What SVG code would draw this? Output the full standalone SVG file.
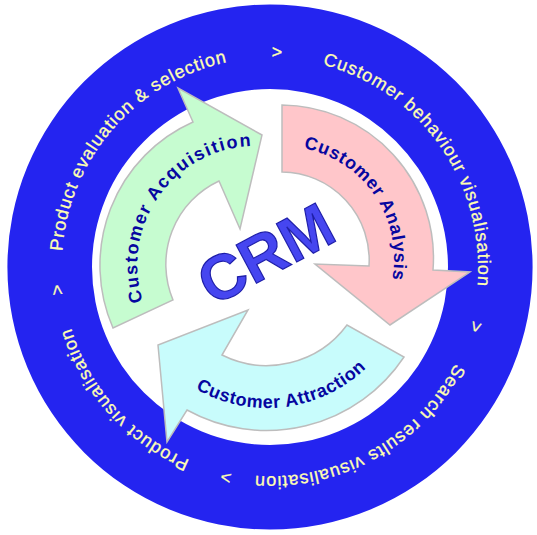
<svg xmlns="http://www.w3.org/2000/svg" xmlns:xlink="http://www.w3.org/1999/xlink" width="537" height="535" viewBox="0 0 537 535">
<style>
.ring{fill:#2424F0;fill-rule:evenodd}
.rt{font-family:"Liberation Sans",Arial,sans-serif;font-size:18px;fill:#FFFFB0;stroke:#FFFFB0;stroke-width:0.3px;letter-spacing:0.9px}
.arrow{stroke:#BDBDBD;stroke-width:1.5;stroke-linejoin:miter}
.at{font-family:"Liberation Sans",Arial,sans-serif;font-size:18px;font-weight:bold;fill:#0606A0}
.crm{font-family:"Liberation Sans",Arial,sans-serif;font-size:63px;font-weight:bold;fill:#4646F0;stroke:#1E1EA8;stroke-width:1.2}
</style>
<defs>
<path id="ringPath" d="M66.55,310.25 A208,208 0 1,1 473.45,223.75 A208,208 0 1,1 66.55,310.25"/>
<path id="gPath" d="M236.34,382.19 A119,119 0 1,1 277.66,147.81 A119,119 0 1,1 236.34,382.19"/>
<path id="pPath" d="M168,259 A113,113 0 1,1 394,259 A113,113 0 1,1 168,259"/>
<path id="cPath" d="M267,122 A143,143 0 1,0 267,408 A143,143 0 1,0 267,122"/>
</defs>
<rect width="537" height="535" fill="#FFFFFF"/>
<g id="ring">
<path class="ring" d="M270,4.5 A262.5,262.5 0 1,1 270,529.5 A262.5,262.5 0 1,1 270,4.5 Z M270,89 A178,178 0 1,0 270,445 A178,178 0 1,0 270,89 Z"/>
<text class="rt" text-anchor="middle"><textPath xlink:href="#ringPath" startOffset="21.8">&gt;</textPath></text>
<text class="rt" text-anchor="middle"><textPath xlink:href="#ringPath" startOffset="194.2">Product evaluation &amp; selection</textPath></text>
<text class="rt" text-anchor="middle"><textPath xlink:href="#ringPath" startOffset="379">&gt;</textPath></text>
<text class="rt" text-anchor="middle"><textPath xlink:href="#ringPath" startOffset="571.8">Customer behaviour visualisation</textPath></text>
<text class="rt" text-anchor="middle"><textPath xlink:href="#ringPath" startOffset="758.7">&gt;</textPath></text>
<text class="rt" text-anchor="middle"><textPath xlink:href="#ringPath" startOffset="921.2">Search results visualisation</textPath></text>
<text class="rt" text-anchor="middle"><textPath xlink:href="#ringPath" startOffset="1070.9">&gt;</textPath></text>
<text class="rt" text-anchor="middle"><textPath xlink:href="#ringPath" startOffset="1201.6">Product visualisation</textPath></text>
</g>
<g id="acquisition">
<path class="arrow" fill="#C6FCD0" d="M113,328 A157,157 0 0,1 193,122 L178,88 L262,135 L240,229 L219,181 A92,92 0 0,0 173,300 Z"/>
<text class="at" text-anchor="middle" style="letter-spacing:1.7px"><textPath xlink:href="#gPath" startOffset="239.9">Customer Acquisition</textPath></text>
</g>
<g id="analysis">
<path class="arrow" fill="#FFC6CA" d="M282,105 A153,153 0 0,1 433,270 L470,272 L390,325 L315,264 L369,266 A88,88 0 0,0 282,172 Z"/>
<text class="at" text-anchor="middle" style="letter-spacing:0.8px"><textPath xlink:href="#pPath" startOffset="287.9">Customer Analysis</textPath></text>
</g>
<g id="attraction">
<path class="arrow" fill="#C8FCFC" d="M404,357 A165,165 0 0,1 187,410 L167,442 L158,345 L248,310 L222,355 A100,100 0 0,0 347,325 Z"/>
<text class="at" text-anchor="middle" style="letter-spacing:0.6px"><textPath xlink:href="#cPath" startOffset="466.7">Customer Attraction</textPath></text>
</g>
<g id="crm">
<text class="crm" x="276" y="273" text-anchor="middle" transform="rotate(-28 276 273)">CRM</text>
</g>
</svg>
